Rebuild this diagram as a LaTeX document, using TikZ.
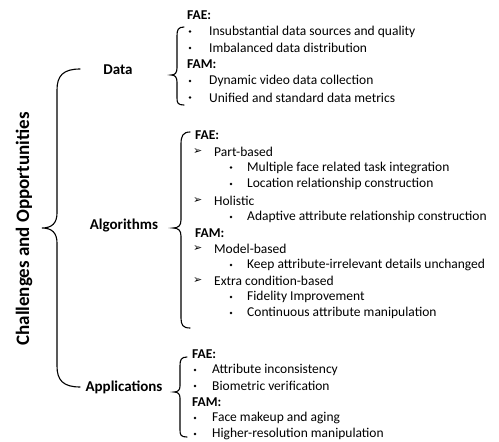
\documentclass[tikz,border=0pt]{standalone}
\usepackage{fontspec}
\setmainfont{Carlito}
\newfontfamily\arrowfont{DejaVu Sans}
\begin{document}
\begin{tikzpicture}[x=1pt,y=-1pt,
    every node/.style={inner sep=0pt,anchor=west,font=\fontsize{13.5}{16}\selectfont},
    head/.style={font=\fontsize{13.5}{16}\selectfont\bfseries},
    branch/.style={anchor=center,font=\fontsize{15}{18}\selectfont\bfseries},
    dot/.style={circle,fill,anchor=center,minimum size=2.8pt},
    brc/.style={line width=1.1pt,line cap=round}]

    \useasboundingbox (0,0) rectangle (499,442);

    \node[rotate=90,anchor=center,font=\fontsize{19}{22}\selectfont\bfseries] (title) at (24,229) {Challenges and Opportunities};

    \node[branch] (data) at (118,70) {Data};
    \node[branch] (algo) at (124,226) {Algorithms};
    \node[branch] (appl) at (124,387) {Applications};

    % big brace
    \draw[brc] (80,69) .. controls (63,69) and (57,76) .. (57,90) -- (57,213) .. controls (57,223) and (52,228) .. (42,228) .. controls (52,228) and (57,233) .. (57,243) -- (57,366) .. controls (57,380) and (63,387) .. (80,387);

    % Data
    \draw[brc] (184,27) .. controls (178,27) and (177,30) .. (177,36) -- (177,68) .. controls (177,73) and (175,75) .. (171,75) .. controls (175,75) and (177,77) .. (177,82) -- (177,98) .. controls (177,103) and (178,105) .. (184,105);
    \node[head] (dfae) at (187,15) {FAE:};
    \foreach \t [count=\i] in {Insubstantial data sources and quality, Imbalanced data distribution}
    {
        \node[dot] (db\i) at (190,{15+16.5*\i}) {};
        \node (de\i) at (209,{15+16.5*\i}) {\t};
    }
    \node[head] (dfam) at (187,64.5) {FAM:};
    \foreach \t [count=\i] in {Dynamic video data collection, Unified and standard data metrics}
    {
        \node[dot] (dc\i) at (190,{64.5+16.5*\i}) {};
        \node (dm\i) at (209,{64.5+16.5*\i}) {\t};
    }

    % Algorithms
    \draw[brc] (190,132) .. controls (183,132) and (181,136) .. (181,144) -- (181,220) .. controls (181,226) and (178,228) .. (173,228) .. controls (178,228) and (181,230) .. (181,236) -- (181,318) .. controls (181,325) and (183,328) .. (190,328);
    \node[head] (afae) at (195,135) {FAE:};
    \node[head] (afam) at (195,233) {FAM:};
    \foreach \y/\t [count=\i] in {151.5/Part-based, 200.5/Holistic, 249/Model-based, 281/Extra condition-based}
    {
        \node (aa\i) at (193,\y) {\arrowfont\fontsize{11}{11}\selectfont ➢};
        \node (a\i) at (214,\y) {\t};
    }
    \foreach \y/\t [count=\i] in {167.5/Multiple face related task integration, 184/Location relationship construction, 217/Adaptive attribute relationship construction, 265/Keep attribute-irrelevant details unchanged, 297/Fidelity Improvement, 313/Continuous attribute manipulation}
    {
        \node[dot] (ab\i) at (231,\y) {};
        \node (b\i) at (247,\y) {\t};
    }

    % Applications
    \draw[brc] (187,357) .. controls (181,357) and (180,360) .. (180,366) -- (180,386) .. controls (180,390) and (178,392) .. (174,392) .. controls (178,392) and (180,394) .. (180,398) -- (180,430) .. controls (180,435) and (181,437) .. (187,437);
    \node[head] (pfae) at (192,354) {FAE:};
    \foreach \t [count=\i] in {Attribute inconsistency, Biometric verification}
    {
        \node[dot] (pb\i) at (195,{354+16*\i}) {};
        \node (pe\i) at (212,{354+16*\i}) {\t};
    }
    \node[head] (pfam) at (192,402) {FAM:};
    \foreach \t [count=\i] in {Face makeup and aging, Higher-resolution manipulation}
    {
        \node[dot] (pc\i) at (195,{402+16*\i}) {};
        \node (pm\i) at (212,{402+16*\i}) {\t};
    }

\end{tikzpicture}
\end{document}
